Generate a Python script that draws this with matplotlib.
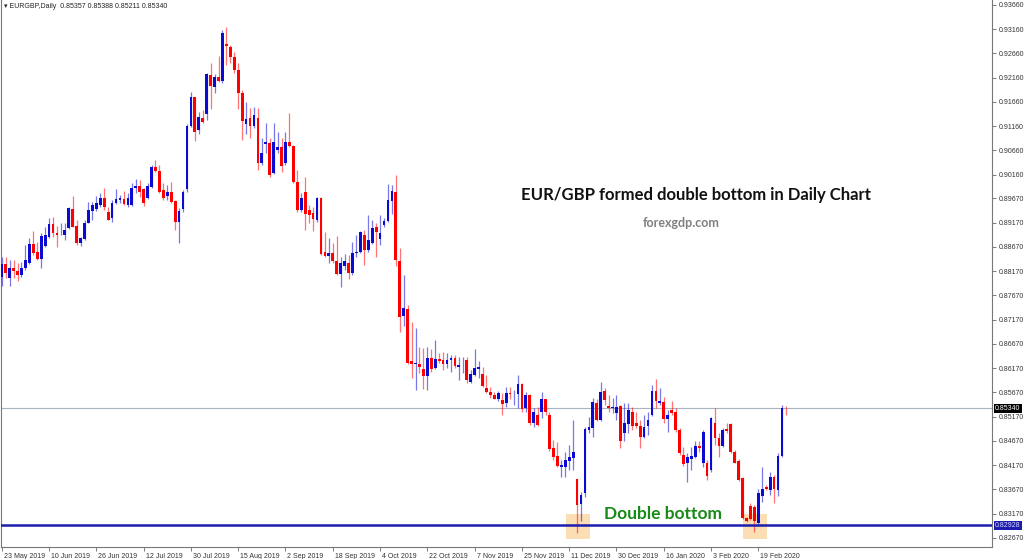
import matplotlib
matplotlib.use("Agg")
import matplotlib.pyplot as plt
import matplotlib.transforms as mtransforms
from matplotlib.patches import Rectangle
import numpy as np
import pandas as pd

plt.rcParams['font.family'] = ['Liberation Sans', 'DejaVu Sans']

symbol = "EURGBP,Daily"
first_day = "2019-05-23"
holidays = ["2019-12-25", "2020-01-01"]

opens = [
    0.8806, 0.8831, 0.8803, 0.8823, 0.8818, 0.8809, 0.8823, 0.8833, 0.8873, 0.8857,
    0.8842, 0.8869, 0.8887, 0.8914, 0.8896, 0.8893, 0.8892, 0.8906, 0.8945, 0.8910,
    0.8875, 0.8883, 0.8917, 0.8942, 0.8945, 0.8954, 0.8969, 0.8940, 0.8927, 0.8957,
    0.8964, 0.8966, 0.8954, 0.8954, 0.8988, 0.8993, 0.8986, 0.8967, 0.8990, 0.9031,
    0.9024, 0.8985, 0.8973, 0.8980, 0.8962, 0.8919, 0.8945, 0.8986, 0.9117, 0.9176,
    0.9108, 0.9132, 0.9141, 0.9222, 0.9196, 0.9217, 0.9209, 0.9286, 0.9279, 0.9259,
    0.9232, 0.9185, 0.9120, 0.9132, 0.9117, 0.9132, 0.9040, 0.9080, 0.9081, 0.9020,
    0.9066, 0.9073, 0.9040, 0.9084, 0.9075, 0.9002, 0.8943, 0.8980, 0.8943, 0.8937,
    0.8923, 0.8969, 0.8856, 0.8849, 0.8854, 0.8838, 0.8811, 0.8828, 0.8835, 0.8813,
    0.8854, 0.8857, 0.8892, 0.8861, 0.8875, 0.8908, 0.8883, 0.8912, 0.8921, 0.8962,
    0.8981, 0.8839, 0.8725, 0.8739, 0.8631, 0.8625, 0.8626, 0.8615, 0.8600, 0.8638,
    0.8617, 0.8636, 0.8634, 0.8626, 0.8634, 0.8638, 0.8619, 0.8633, 0.8634, 0.8589,
    0.8603, 0.8615, 0.8605, 0.8577, 0.8569, 0.8561, 0.8554, 0.8551, 0.8545, 0.8566,
    0.8565, 0.8563, 0.8584, 0.8534, 0.8561, 0.8505, 0.8521, 0.8527, 0.8553, 0.8520,
    0.8452, 0.8436, 0.8414, 0.8414, 0.8426, 0.8431, 0.8388, 0.8337, 0.8359, 0.8490,
    0.8493, 0.8546, 0.8510, 0.8571, 0.8539, 0.8534, 0.8524, 0.8539, 0.8484, 0.8502,
    0.8527, 0.8504, 0.8497, 0.8476, 0.8497, 0.8521, 0.8571, 0.8545, 0.8548, 0.8512,
    0.8530, 0.8527, 0.8490, 0.8438, 0.8421, 0.8429, 0.8433, 0.8457, 0.8422, 0.8421,
    0.8407, 0.8504, 0.8473, 0.8457, 0.8491, 0.8502, 0.8445, 0.8426, 0.8390, 0.8309,
    0.8332, 0.8330, 0.8297, 0.8354, 0.8372, 0.8366, 0.8393, 0.8366, 0.8436, 0.85357,
]
highs = [
    0.8847, 0.8847, 0.8840, 0.8840, 0.8833, 0.8837, 0.8871, 0.8885, 0.8901, 0.8878,
    0.8895, 0.8909, 0.8926, 0.8929, 0.8911, 0.8916, 0.8917, 0.8950, 0.8972, 0.8923,
    0.8888, 0.8923, 0.8960, 0.8960, 0.8972, 0.8978, 0.8988, 0.8950, 0.8964, 0.8986,
    0.8974, 0.8982, 0.8978, 0.8998, 0.9007, 0.9005, 0.8988, 0.8999, 0.9036, 0.9046,
    0.9036, 0.8998, 0.8995, 0.9002, 0.8964, 0.8947, 0.8985, 0.9120, 0.9187, 0.9177,
    0.9146, 0.9149, 0.9225, 0.9247, 0.9224, 0.9261, 0.9314, 0.9321, 0.9283, 0.9270,
    0.9247, 0.9191, 0.9167, 0.9154, 0.9156, 0.9154, 0.9092, 0.9122, 0.9092, 0.9122,
    0.9105, 0.9092, 0.9105, 0.9144, 0.9077, 0.9026, 0.8978, 0.9011, 0.8954, 0.8950,
    0.8971, 0.8971, 0.8898, 0.8885, 0.8875, 0.8890, 0.8847, 0.8853, 0.8850, 0.8878,
    0.8892, 0.8901, 0.8902, 0.8933, 0.8923, 0.8916, 0.8933, 0.8926, 0.8997, 0.8995,
    0.9016, 0.8864, 0.8809, 0.8747, 0.8713, 0.8700, 0.8661, 0.8658, 0.8661, 0.8656,
    0.8675, 0.8649, 0.8651, 0.8648, 0.8644, 0.8644, 0.8641, 0.8641, 0.8641, 0.8613,
    0.8656, 0.8631, 0.8620, 0.8603, 0.8578, 0.8567, 0.8571, 0.8566, 0.8579, 0.8579,
    0.8573, 0.8603, 0.8586, 0.8569, 0.8563, 0.8534, 0.8538, 0.8569, 0.8554, 0.8527,
    0.8469, 0.8465, 0.8428, 0.8445, 0.8459, 0.8510, 0.8389, 0.8362, 0.8495, 0.8517,
    0.8555, 0.8554, 0.8589, 0.8576, 0.8562, 0.8555, 0.8562, 0.8541, 0.8545, 0.8545,
    0.8538, 0.8527, 0.8510, 0.8521, 0.8527, 0.8583, 0.8594, 0.8576, 0.8558, 0.8531,
    0.8550, 0.8534, 0.8493, 0.8455, 0.8442, 0.8455, 0.8466, 0.8468, 0.8490, 0.8428,
    0.8517, 0.8534, 0.8483, 0.8493, 0.8504, 0.8505, 0.8448, 0.8429, 0.8393, 0.8311,
    0.8339, 0.8335, 0.8369, 0.8414, 0.8376, 0.8404, 0.8397, 0.8442, 0.8541, 0.85388,
]
lows = [
    0.8787, 0.8803, 0.8787, 0.8803, 0.8796, 0.8806, 0.8820, 0.8832, 0.8850, 0.8840,
    0.8824, 0.8868, 0.8885, 0.8888, 0.8868, 0.8892, 0.8881, 0.8904, 0.8908, 0.8871,
    0.8869, 0.8881, 0.8916, 0.8923, 0.8942, 0.8950, 0.8943, 0.8922, 0.8918, 0.8955,
    0.8957, 0.8954, 0.8950, 0.8952, 0.8978, 0.8971, 0.8952, 0.8965, 0.8988, 0.9022,
    0.8978, 0.8964, 0.8964, 0.8957, 0.8902, 0.8876, 0.8940, 0.8981, 0.9115, 0.9086,
    0.9101, 0.9123, 0.9129, 0.9151, 0.9185, 0.9208, 0.9205, 0.9242, 0.9246, 0.9225,
    0.9151, 0.9088, 0.9101, 0.9092, 0.9112, 0.9026, 0.9036, 0.9060, 0.9012, 0.9018,
    0.9060, 0.9022, 0.9036, 0.9074, 0.8998, 0.8940, 0.8940, 0.8902, 0.8916, 0.8901,
    0.8919, 0.8850, 0.8846, 0.8833, 0.8833, 0.8809, 0.8784, 0.8820, 0.8800, 0.8809,
    0.8847, 0.8855, 0.8829, 0.8857, 0.8873, 0.8847, 0.8871, 0.8909, 0.8919, 0.8936,
    0.8828, 0.8692, 0.8704, 0.8626, 0.8596, 0.8572, 0.8607, 0.8574, 0.8572, 0.8610,
    0.8615, 0.8627, 0.8613, 0.8617, 0.8610, 0.8617, 0.8593, 0.8607, 0.8587, 0.8586,
    0.8600, 0.8596, 0.8578, 0.8565, 0.8556, 0.8553, 0.8550, 0.8521, 0.8538, 0.8554,
    0.8541, 0.8534, 0.8527, 0.8527, 0.8500, 0.8495, 0.8497, 0.8514, 0.8521, 0.8447,
    0.8428, 0.8414, 0.8393, 0.8393, 0.8407, 0.8407, 0.8277, 0.8301, 0.8352, 0.8483,
    0.8476, 0.8509, 0.8509, 0.8541, 0.8527, 0.8524, 0.8510, 0.8452, 0.8466, 0.8483,
    0.8490, 0.8494, 0.8452, 0.8473, 0.8480, 0.8519, 0.8534, 0.8541, 0.8505, 0.8486,
    0.8521, 0.8486, 0.8438, 0.8415, 0.8383, 0.8407, 0.8431, 0.8445, 0.8414, 0.8386,
    0.8404, 0.8459, 0.8433, 0.8455, 0.8484, 0.8443, 0.8421, 0.8385, 0.8306, 0.8299,
    0.8304, 0.8280, 0.8296, 0.8342, 0.8366, 0.8356, 0.8339, 0.8354, 0.8433, 0.85211,
]
closes = [
    0.8832, 0.8813, 0.8823, 0.8818, 0.8809, 0.8824, 0.8840, 0.8873, 0.8855, 0.8842,
    0.8890, 0.8892, 0.8914, 0.8896, 0.8892, 0.8894, 0.8902, 0.8947, 0.8909, 0.8875,
    0.8885, 0.8916, 0.8943, 0.8954, 0.8957, 0.8969, 0.8949, 0.8923, 0.8958, 0.8966,
    0.8967, 0.8956, 0.8968, 0.8989, 0.8993, 0.8981, 0.8957, 0.8993, 0.9031, 0.9024,
    0.8981, 0.8967, 0.8980, 0.8960, 0.8919, 0.8942, 0.8981, 0.9117, 0.9177, 0.9105,
    0.9136, 0.9125, 0.9224, 0.9198, 0.9218, 0.9210, 0.9309, 0.9281, 0.9258, 0.9231,
    0.9185, 0.9127, 0.9131, 0.9117, 0.9139, 0.9040, 0.9061, 0.9083, 0.9016, 0.9084,
    0.9074, 0.9033, 0.9083, 0.9075, 0.9002, 0.8943, 0.8969, 0.8935, 0.8933, 0.8924,
    0.8967, 0.8853, 0.8848, 0.8854, 0.8839, 0.8811, 0.8833, 0.8838, 0.8814, 0.8855,
    0.8857, 0.8898, 0.8861, 0.8881, 0.8906, 0.8898, 0.8896, 0.8921, 0.8964, 0.8983,
    0.8840, 0.8723, 0.8741, 0.8628, 0.8626, 0.8627, 0.8620, 0.8600, 0.8638, 0.8615,
    0.8636, 0.8631, 0.8626, 0.8634, 0.8638, 0.8622, 0.8624, 0.8634, 0.8592, 0.8605,
    0.8617, 0.8620, 0.8580, 0.8568, 0.8561, 0.8554, 0.8565, 0.8544, 0.8566, 0.8563,
    0.8566, 0.8584, 0.8532, 0.8561, 0.8505, 0.8527, 0.8500, 0.8553, 0.8527, 0.8451,
    0.8435, 0.8415, 0.8418, 0.8428, 0.8433, 0.8445, 0.8335, 0.8355, 0.8491, 0.8495,
    0.8548, 0.8510, 0.8569, 0.8552, 0.8534, 0.8538, 0.8538, 0.8466, 0.8504, 0.8530,
    0.8498, 0.8497, 0.8476, 0.8495, 0.8510, 0.8571, 0.8550, 0.8550, 0.8512, 0.8521,
    0.8525, 0.8490, 0.8442, 0.8420, 0.8433, 0.8436, 0.8457, 0.8453, 0.8486, 0.8395,
    0.8515, 0.8473, 0.8457, 0.8490, 0.8488, 0.8445, 0.8422, 0.8387, 0.8308, 0.8301,
    0.8306, 0.8301, 0.8360, 0.8369, 0.8367, 0.8393, 0.8369, 0.8436, 0.8536, 0.85340,
]

price_ticks = [
    0.93660, 0.93160, 0.92660, 0.92160, 0.91660, 0.91160, 0.90660, 0.90160,
    0.89670, 0.89170, 0.88670, 0.88170, 0.87670, 0.87170, 0.86670, 0.86170,
    0.85670, 0.85170, 0.84670, 0.84170, 0.83670, 0.83170, 0.82670,
]
support_level = 0.82928
label_every = 12

title = "EUR/GBP formed double bottom in Daily Chart"
site = "forexgdp.com"
pattern_label = "Double bottom"

BLUE = "#0a0ad2"
RED = "#ff0000"
LINE_BLUE = "#1c1cae"

# trading days, no Christmas / New Year bar
dates = pd.bdate_range(first_day, periods=len(opens) + 10)
dates = dates.drop(pd.to_datetime(holidays))[:len(opens)]

o = np.asarray(opens)
h = np.asarray(highs)
l = np.asarray(lows)
c = np.asarray(closes)
x = np.arange(len(o))

fig = plt.figure(figsize=(10.24, 5.59), dpi=100)
ax = fig.add_axes([1 / 1024, 12 / 559, 991 / 1024, 547 / 559])

# candles
up = c >= o
colors = np.where(up, BLUE, RED)
ax.vlines(x, l, h, colors=colors, lw=0.9, alpha=0.55, zorder=3)
body_low = np.minimum(o, c)
body_h = np.maximum(np.abs(c - o), 0.00008)
ax.bar(x, body_h, bottom=body_low, width=0.7, color=colors, linewidth=0, zorder=4)

# current price line and support line
ax.axhline(c[-1], color="#a8b2c0", lw=0.8, zorder=2)
ax.axhline(support_level, color=LINE_BLUE, lw=1.8, zorder=5)

# highlight both bottoms
split = len(o) // 2 + 60
for lo, hi in [(0, split), (split, len(o))]:
    k = lo + int(np.argmin(l[lo:hi]))
    ax.add_patch(Rectangle((k - 2.9, support_level - 0.0028), 6.1, 0.0052,
                           facecolor="#fbd39c", alpha=0.75, edgecolor="none", zorder=1))

ax.set_xlim(-0.2, 251.3)
ax.set_ylim(0.82484, 0.93763)

# price axis on the right
ax.yaxis.tick_right()
ax.set_yticks(price_ticks)
ax.set_yticklabels([f"{v:.5f}" for v in price_ticks])
ax.tick_params(axis="y", length=3, width=0.6, color="#666666", labelsize=5,
               labelcolor="#333333", pad=2)

ticks = x[::label_every]
ax.set_xticks(ticks)
ax.set_xticklabels([f"{d.day} {d:%b %Y}" for d in dates[::label_every]])
ax.tick_params(axis="x", length=3, width=0.6, color="#666666", labelsize=5,
               labelcolor="#333333", pad=1)
shift = mtransforms.ScaledTranslation(2 / 100, 0, fig.dpi_scale_trans)
for lab in ax.get_xticklabels():
    lab.set_horizontalalignment("left")
    lab.set_transform(lab.get_transform() + shift)

for side in ["left", "right", "bottom"]:
    ax.spines[side].set_color("#777777")
    ax.spines[side].set_linewidth(0.8)
ax.spines["top"].set_visible(False)

# boxed labels on the price axis
trans = mtransforms.blended_transform_factory(ax.transAxes, ax.transData)
ax.text(1.003, c[-1], f"{c[-1]:.5f}", transform=trans, fontsize=5, color="white",
        va="center", ha="left", zorder=6,
        bbox=dict(boxstyle="square,pad=0.2", fc="black", ec="none"))
ax.text(1.003, support_level, f"{support_level:.5f}", transform=trans, fontsize=5,
        color="#d8d8ff", va="center", ha="left", zorder=6,
        bbox=dict(boxstyle="square,pad=0.2", fc=LINE_BLUE, ec="none"))

# header
fig.text(4 / 1024, 1 - 7 / 559,
         f"\u25BE {symbol}  {o[-1]:.5f} {h[-1]:.5f} {l[-1]:.5f} {c[-1]:.5f}",
         fontsize=5, color="#222222", va="center", ha="left")

fig.text(0.680, 0.651, title, fontsize=12, fontweight="bold", color="#111111",
         family=["Lato", "DejaVu Sans"], ha="center", va="center")
fig.text(0.665, 0.601, site, fontsize=9, fontweight="bold", color="#808080",
         family=["Lato", "DejaVu Sans"], ha="center", va="center")
fig.text(0.647, 0.080, pattern_label, fontsize=12.5, fontweight="bold", color="#178a17",
         family=["Lato", "DejaVu Sans"], ha="center", va="center")

fig.savefig("out.png", dpi=100, facecolor="white")
